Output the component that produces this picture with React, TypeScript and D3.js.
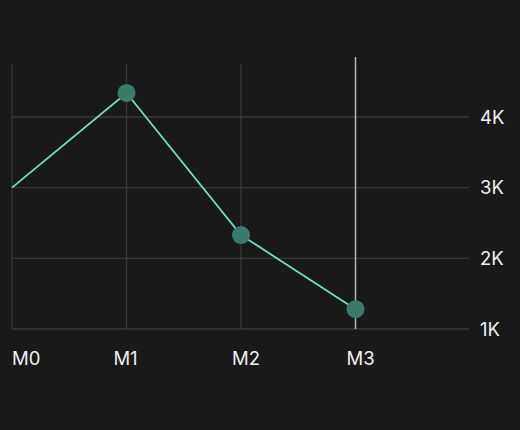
import React from "react";
import * as d3 from "d3";

const categories = ["M0", "M1", "M2", "M3"];
const values = [3000, 4340, 2330, 1280];
const yTicks = [1000, 2000, 3000, 4000];
const showMarker = [false, true, true, true];

const W = 520;
const H = 430;

export default function App() {
  const x = d3.scaleLinear().domain([0, 4]).range([12, 470]);
  const y = d3.scaleLinear().domain([1000, 4750]).range([329, 64]);
  const line = d3
    .line<number>()
    .x((_, i) => x(i))
    .y((d) => y(d));
  const font = "Inter, 'Open Sans', sans-serif";
  return (
    <div style={{ position: "fixed", left: 0, top: 0, width: W, height: H, background: "#191919" }}>
      <svg width={W} height={H} style={{ display: "block" }}>
        <rect width={W} height={H} fill="#191919" />
        {yTicks.map((t) => (
          <line key={"h" + t} x1={x(0)} x2={x(4) - 1} y1={y(t)} y2={y(t)} stroke="#383838" strokeWidth={1.3} />
        ))}
        {categories.map((c, i) =>
          i === 3 ? null : (
            <line key={"v" + c} x1={x(i)} x2={x(i)} y1={y(4750)} y2={y(1000)} stroke="#383838" strokeWidth={1.3} />
          )
        )}
        <line x1={x(3)} x2={x(3)} y1={57} y2={y(1000)} stroke="#b5b5b5" strokeWidth={1.5} />
        <path d={line(values) || ""} fill="none" stroke="#6fe0c6" strokeWidth={1.8} />
        {values.map((v, i) =>
          showMarker[i] ? <circle key={"c" + i} cx={x(i)} cy={y(v)} r={9} fill="#3a7a6c" /> : null
        )}
        {yTicks.map((t) => (
          <text
            key={"yt" + t}
            x={480}
            y={y(t)}
            dy="0.36em"
            fill="#f0f0f0"
            fontFamily={font}
            fontSize={18.5}
          >
            {t / 1000 + "K"}
          </text>
        ))}
        {categories.map((c, i) => (
          <text
            key={"xt" + c}
            x={i === 0 ? x(i) : x(i) + (i === 1 ? -1 : 5)}
            y={365}
            textAnchor={i === 0 ? "start" : "middle"}
            fill="#f0f0f0"
            fontFamily={font}
            fontSize={18.5}
          >
            {c}
          </text>
        ))}
      </svg>
    </div>
  );
}
